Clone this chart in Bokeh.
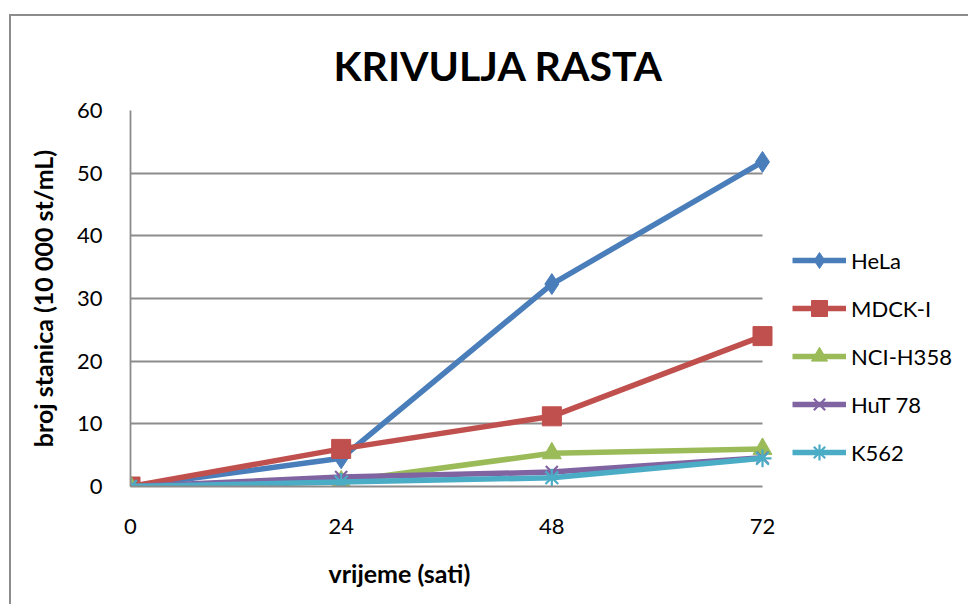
from bokeh.plotting import figure
from bokeh.models import FixedTicker, Legend, LegendItem, Title, Range1d
from bokeh.embed import file_html
from bokeh.resources import INLINE

hours = [0, 24, 48, 72]
series_names = ["HeLa", "MDCK-I", "NCI-H358", "HuT 78", "K562"]
hela = [0, 4.5, 32.3, 51.8]
mdck = [0, 6.0, 11.2, 24.0]
nci = [0, 0.8, 5.3, 6.0]
hut = [0, 1.5, 2.3, 4.6]
k562 = [0, 0.7, 1.4, 4.5]
y_ticks = [0, 10, 20, 30, 40, 50, 60]
title_text = "KRIVULJA RASTA"
x_title = "vrijeme (sati)"
y_title = "broj stanica (10 000 st/mL)"

colors = ["#4a7ebb", "#c0504d", "#9bbb59", "#8064a2", "#4bacc6"]
markers = ["diamond", "square", "triangle", "x", "asterisk"]
sizes = [21, 19, 19, 17, 18]
FONT = "Lato"
GRID = "#8c8c8c"

W, H = 959, 590
BL, BR, BT, BB = 119, 2, 94, 119
PLOT_W = 632                      # width of the gridded plot area in px
frame_w = W - BL - BR
x_end = hours[-1] * frame_w / PLOT_W   # frame also holds the legend on the right

p = figure(width=W, height=H, output_backend="svg", toolbar_location=None,
           x_range=Range1d(hours[0], x_end), y_range=Range1d(y_ticks[0], y_ticks[-1]),
           min_border_left=BL, min_border_right=BR,
           min_border_top=BT, min_border_bottom=BB)
p.styles = {"border-left": "2px solid #8c8c8c", "border-top": "2px solid #8c8c8c",
            "margin-left": "9px", "margin-top": "14px"}
p.outline_line_color = None
p.background_fill_color = "white"
p.border_fill_color = "white"

p.title.text = title_text
p.title.text_font = FONT
p.title.text_font_size = "41px"
p.title.text_font_style = "bold"
p.title.text_color = "black"
p.title.align = "left"
p.title.offset = 203
p.title.standoff = 42

p.xgrid.grid_line_color = None
p.ygrid.grid_line_color = GRID
p.ygrid.grid_line_width = 1.8
p.ygrid.ticker = FixedTicker(ticks=y_ticks)
p.ygrid.cross_bounds = (hours[0], hours[-1])

p.xaxis.ticker = FixedTicker(ticks=hours)
p.xaxis.bounds = (hours[0], hours[-1])
p.yaxis.ticker = FixedTicker(ticks=y_ticks)
for ax in (p.xaxis[0], p.yaxis[0]):
    ax.major_tick_line_color = None
    ax.minor_tick_line_color = None
    ax.axis_line_color = GRID
    ax.axis_line_width = 1.8
    ax.major_label_text_font = FONT
    ax.major_label_text_font_size = "22px"
    ax.major_label_text_color = "black"
    ax.axis_label_text_font = FONT
    ax.axis_label_text_font_size = "25px"
    ax.axis_label_text_font_style = "bold"
    ax.axis_label_text_color = "black"
p.xaxis.major_label_standoff = 26
p.yaxis.major_label_standoff = 22
p.yaxis.axis_label = y_title
p.yaxis.axis_label_standoff = 16

p.add_layout(Title(text=x_title, text_font=FONT, text_font_size="25px",
                   text_font_style="bold", text_color="black",
                   align="left", offset=198, standoff=38), "below")

all_series = [hela, mdck, nci, hut, k562]
items = []
for name, vals, c, m, s in zip(series_names, all_series, colors, markers, sizes):
    lr = p.line(hours, vals, line_color=c, line_width=5.5)
    if m in ("x", "asterisk"):
        sr = p.scatter(hours, vals, marker=m, size=s, line_color=c, line_width=2.2)
    else:
        sr = p.scatter(hours, vals, marker=m, size=s, fill_color=c, line_color=c)
    items.append(LegendItem(label=name, renderers=[lr, sr]))

legend = Legend(items=items, location=(PLOT_W + 30, 14), glyph_width=54, glyph_height=40,
                label_standoff=5, spacing=8, padding=0, margin=0,
                border_line_color=None, background_fill_alpha=0,
                label_text_font=FONT, label_text_font_size="22px", label_text_color="black")
p.add_layout(legend, "center")

open("out.html", "w").write(file_html(p, INLINE))
